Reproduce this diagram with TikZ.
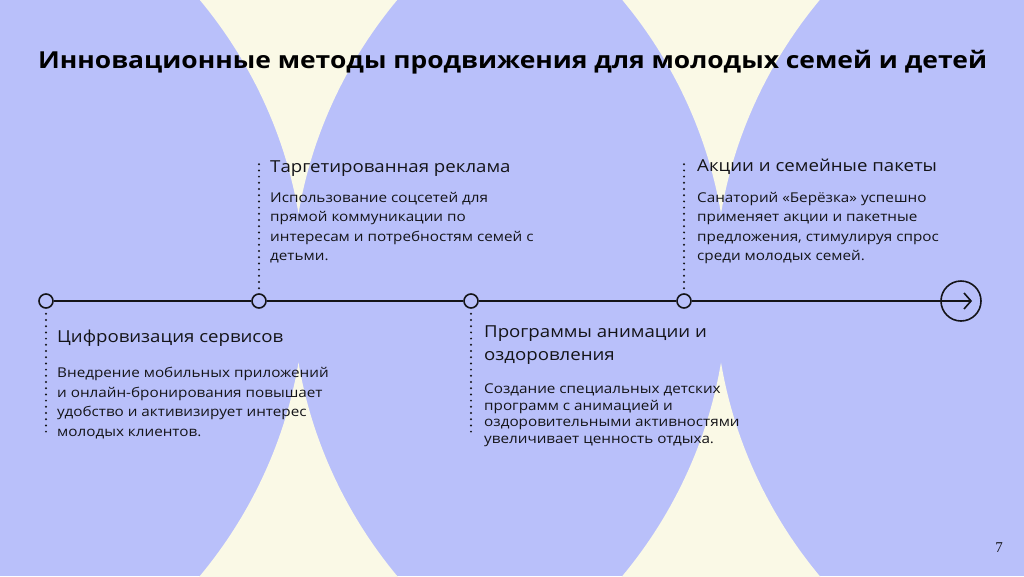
\documentclass[tikz,border=0pt]{standalone}
\usepackage{fontspec}
\setmainfont{Open Sans}[FakeStretch=1.13]
\newfontfamily\pagenumfont{Liberation Serif}
\definecolor{lav}{RGB}{185,192,250}
\definecolor{cream}{RGB}{250,249,230}
\definecolor{ink}{RGB}{20,20,24}
\begin{document}
\begin{tikzpicture}[x=1pt,y=-1pt,
  spike/.style={fill=cream,draw=none},
  tnode/.style={circle,draw=ink,fill=lav,line width=1.6pt,minimum size=14pt,inner sep=0pt},
  endnode/.style={circle,draw=ink,line width=1.6pt,minimum size=40pt,inner sep=0pt},
  tline/.style={draw=ink,line width=1.6pt},
  dotline/.style={draw=ink,line width=2.2pt,line cap=round,dash pattern=on 0pt off 6.2pt},
  ttl/.style={anchor=base west,inner sep=0pt,font=\bfseries\fontsize{23.4}{28}\selectfont,text=black},
  head/.style={anchor=base west,inner sep=0pt,font=\fontsize{16.5}{23}\selectfont,text=ink},
  body/.style={anchor=base west,inner sep=0pt,font=\fontsize{13.5}{19.5}\selectfont,text=ink,align=left},
  bodytight/.style={anchor=base west,inner sep=0pt,font=\fontsize{13.5}{16.5}\selectfont,text=ink,align=left}
]
\useasboundingbox (0,0) rectangle (1024,576);
\begin{scope}
\clip (0,0) rectangle (1024,576);
\fill[lav] (0,0) rectangle (1024,576);
\foreach \dx in {0,422.5}{
  \begin{scope}[xshift=\dx]
  \fill[spike] (199,-1) .. controls (250.7,60.8) and (285.2,134.8) .. (298.5,213.5)
     .. controls (311.8,134.8) and (346.3,60.8) .. (398,-1) -- cycle;
  \fill[spike] (199,577) .. controls (250.7,515.2) and (285.2,441.2) .. (298.5,362.5)
     .. controls (311.8,441.2) and (346.3,515.2) .. (398,577) -- cycle;
  \end{scope}
}
\end{scope}

\node[ttl] (title) at (38,68) {Инновационные методы продвижения для молодых семей и детей};

% timeline
\node[tnode] (n1) at (46,301) {};
\node[tnode] (n2) at (259,301) {};
\node[tnode] (n3) at (471,301) {};
\node[tnode] (n4) at (684,301) {};
\node[endnode] (e) at (961,301) {};
\coordinate (tip) at (971,301);
\coordinate (tipu) at (964,293);
\coordinate (tipd) at (964,309);
\draw[tline] (n1.east) -- (n2.west);
\draw[tline] (n2.east) -- (n3.west);
\draw[tline] (n3.east) -- (n4.west);
\draw[tline] (n4.east) -- (tip);
\draw[tline,line join=miter] (tipu) -- (tip) -- (tipd);

% dotted connectors
\coordinate (d1) at (46,437);
\coordinate (d2) at (259,160);
\coordinate (d3) at (471,432);
\coordinate (d4) at (684,160);
\draw[dotline] ([yshift=-5pt]n1.south) -- (d1);
\draw[dotline] ([yshift=5pt]n2.north) -- (d2);
\draw[dotline] ([yshift=-5pt]n3.south) -- (d3);
\draw[dotline] ([yshift=5pt]n4.north) -- (d4);

% texts
\node[head] (h2) at (270,172) {Таргетированная реклама};
\node[body,anchor=north west] (b2) at (270,192) {Использование соцсетей для\\прямой коммуникации по\\интересам и потребностям семей с\\детьми.};

\node[head] (h4) at (697,171) {Акции и семейные пакеты};
\node[body,anchor=north west] (b4) at (697,192) {Санаторий «Берёзка» успешно\\применяет акции и пакетные\\предложения, стимулируя спрос\\среди молодых семей.};

\node[head] (h1) at (57,342) {Цифровизация сервисов};
\node[body,anchor=north west] (b1) at (57,367) {Внедрение мобильных приложений\\и онлайн-бронирования повышает\\удобство и активизирует интерес\\молодых клиентов.};

\node[head,align=left,anchor=north west] (h3) at (484,326) {Программы анимации и\\оздоровления};
\node[bodytight,anchor=north west] (b3) at (484,384) {Создание специальных детских\\программ с анимацией и\\оздоровительными активностями\\увеличивает ценность отдыха.};

\node[anchor=base,inner sep=0pt,font=\pagenumfont\fontsize{15}{15}\selectfont,text=ink] (pg) at (999,552) {7};
\end{tikzpicture}
\end{document}
